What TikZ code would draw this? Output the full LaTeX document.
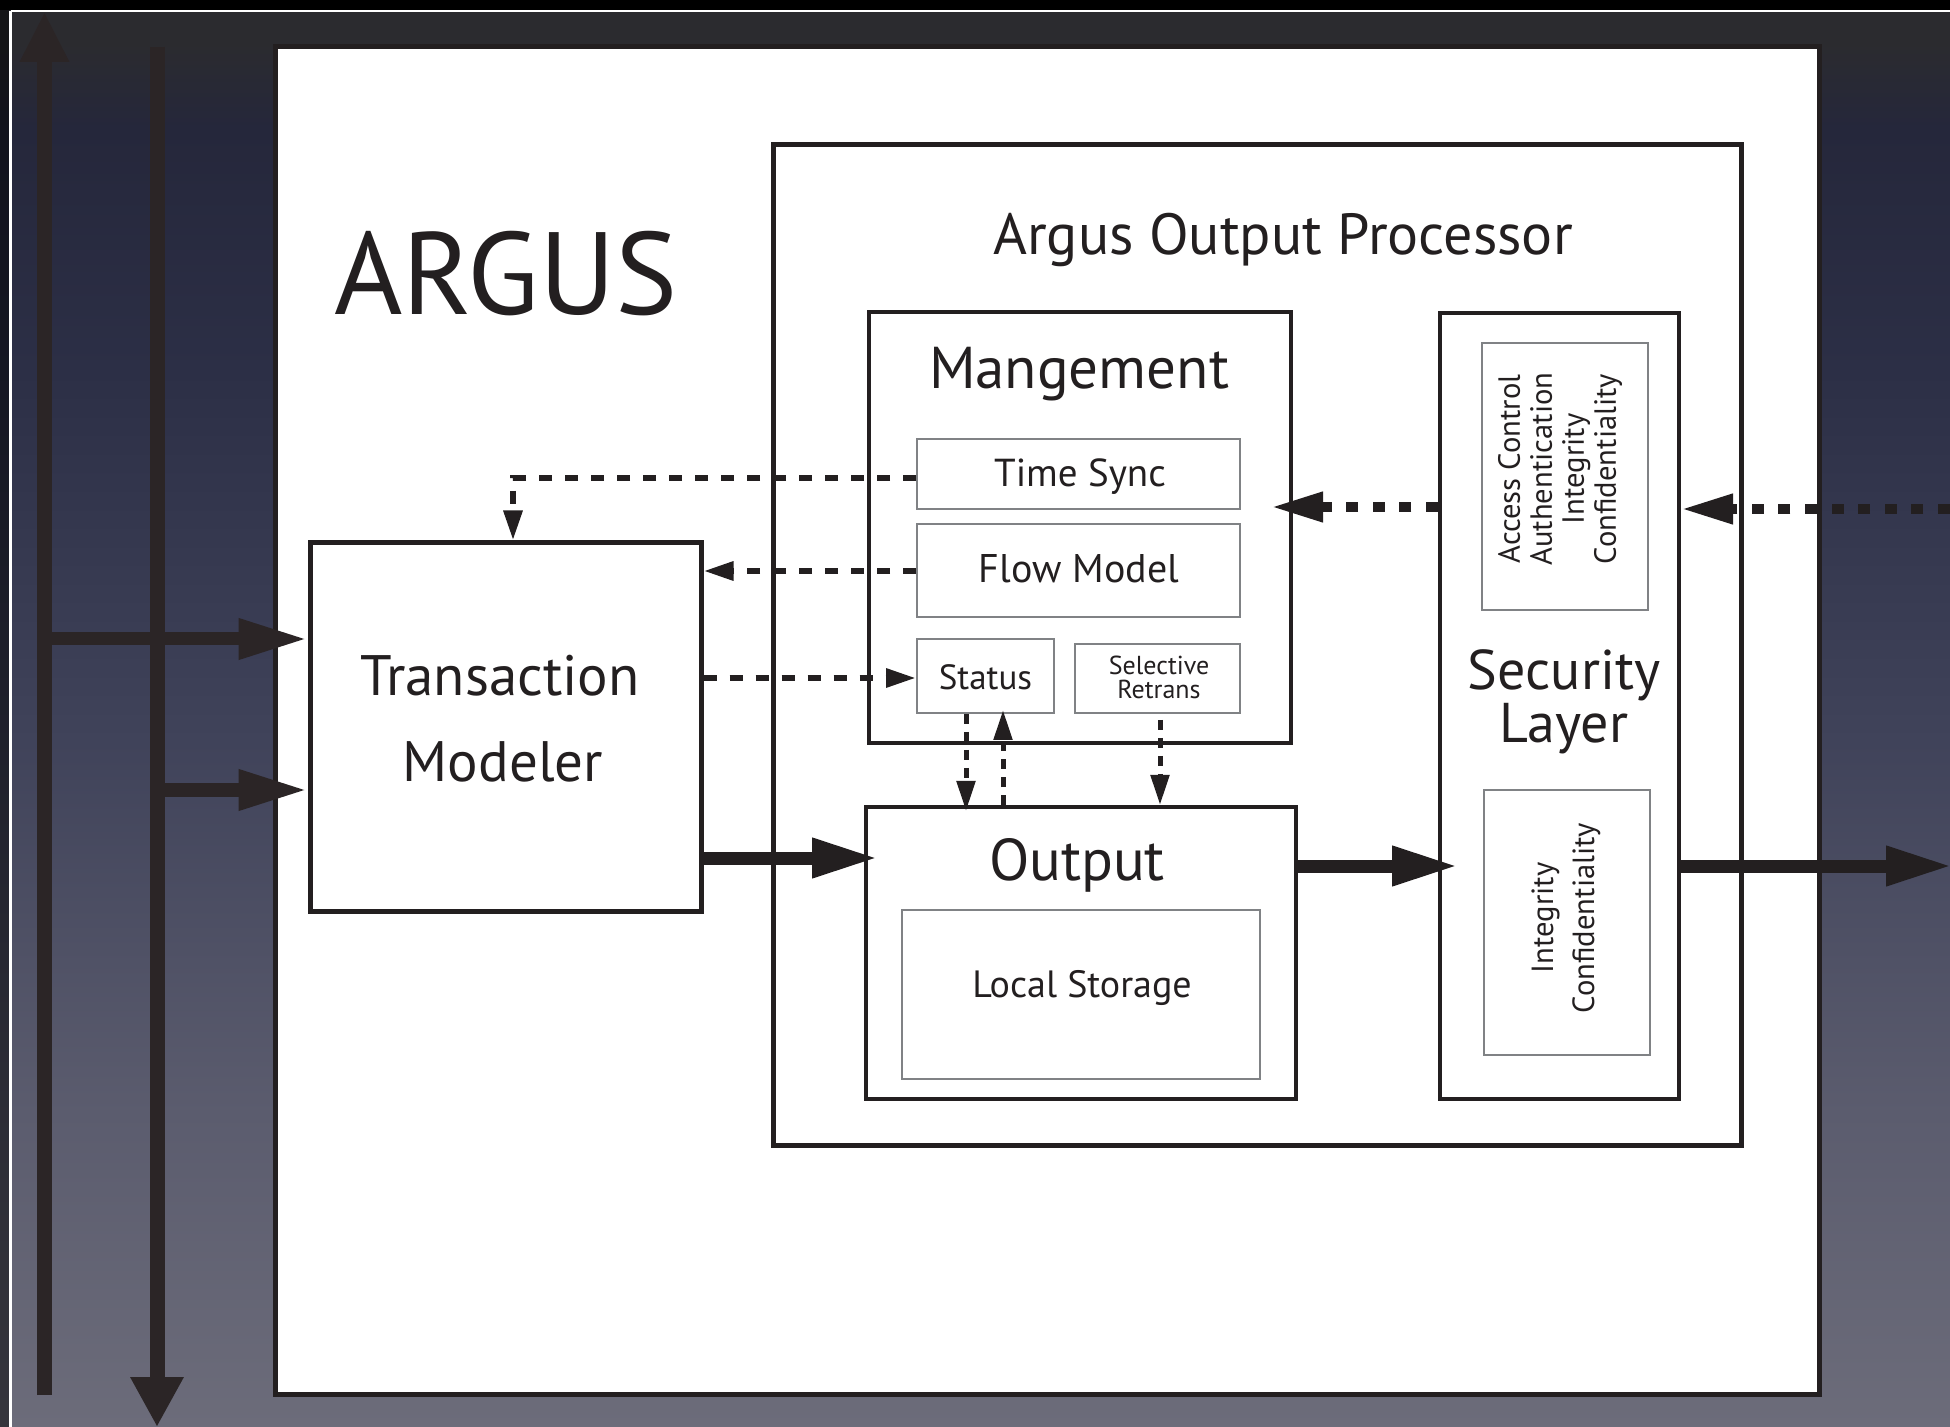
\documentclass[tikz,border=0pt]{standalone}
\usepackage{fontspec}
\setmainfont{PT Sans}
\usetikzlibrary{arrows.meta,fit,calc}
\definecolor{ink}{HTML}{231F20}
\definecolor{bus}{HTML}{2B2526}
\definecolor{thin}{HTML}{808285}
\definecolor{bgA}{HTML}{6C6C7A}
\definecolor{bgB}{HTML}{5B5C6E}
\definecolor{bgC}{HTML}{40435A}
\definecolor{bgD}{HTML}{2C2F46}
\definecolor{bgE}{HTML}{25273B}
\definecolor{bgF}{HTML}{2B2B2F}
\pgfdeclareverticalshading{bgshade}{100bp}{color(0bp)=(bgA); color(25bp)=(bgA); color(36bp)=(bgB); color(49bp)=(bgC); color(62bp)=(bgD); color(70.5bp)=(bgE); color(73.5bp)=(bgF); color(100bp)=(bgF)}
\newcommand{\fs}[1]{\fontsize{#1}{#1}\selectfont}
\begin{document}
\begin{tikzpicture}[x=0.5pt,y=-0.5pt,
  box/.style={draw=ink,fill=white,line width=2pt,inner sep=0pt},
  heavybox/.style={box,line width=2.5pt},
  subbox/.style={draw=thin,fill=white,line width=1pt,inner sep=0pt},
  lbl/.style={text=ink,inner sep=0pt,anchor=base},
  dashln/.style={draw=ink,line width=3pt,dash pattern=on 6.5pt off 6.5pt},
  vdash/.style={draw=ink,line width=2.5pt,dash pattern=on 5pt off 4pt},
  sqdash/.style={draw=ink,line width=5pt,dash pattern=on 6pt off 7.3pt},
  thickarr/.style={draw=ink,line width=6.5pt,-{Triangle[length=33pt,width=18.5pt]}},
  smalltip/.style={-{Triangle[length=15pt,width=9pt]}},
  bigdashtip/.style={-{Triangle[length=26pt,width=14pt]}},
  busln/.style={draw=bus,line width=7.5pt}
]
\useasboundingbox (0,0) rectangle (1950,1427);
% background
\shade[shading=bgshade] (0,0) rectangle (1950,1427);
\fill[black] (0,0) rectangle (1950,10);
\fill[black,opacity=0.5] (0,10) rectangle (9,1427);
\draw[white,line width=1.2pt] (10.5,11) -- (1950,11);
\draw[white,line width=1.2pt] (10.5,11) -- (10.5,1427);

% bus lines
\coordinate (busAbot) at (44.5,1395);
\coordinate (busAtop) at (44.5,12);
\coordinate (busBtop) at (157,47);
\coordinate (busBbot) at (157,1427);
\draw[busln,-{Triangle[length=25pt,width=23pt]}] (busAbot) -- (busAtop);
\draw[busln,-{Triangle[length=25pt,width=25pt]}] (busBtop) -- (busBbot);

% boxes
\node[heavybox, fit={(275,47)(1819,1394)}] (argus) {};
\node[heavybox, fit={(773,145)(1741,1145)}] (aop) {};
\node[heavybox, fit={(310,543)(701,911)}] (tm) {};
\node[box, fit={(869,312)(1291,743)}] (mg) {};
\node[subbox, fit={(917,439)(1240,509)}] (ts) {};
\node[subbox, fit={(917,524)(1240,617)}] (fm) {};
\node[subbox, fit={(917,639)(1054,713)}] (st) {};
\node[subbox, fit={(1075,644)(1240,713)}] (sr) {};
\node[box, fit={(866,807)(1296,1099)}] (out) {};
\node[subbox, fit={(902,910)(1260,1079)}] (ls) {};
\node[box, fit={(1440,313)(1679,1099)}] (sec) {};
\node[subbox, fit={(1482,343)(1648,610)}] (secA) {};
\node[subbox, fit={(1484,790)(1650,1055)}] (secB) {};

% texts
\node[lbl,font=\fs{58.5}] (targus) at (506,315) {ARGUS};
\node[lbl,font=\fs{29}] (taop) at (1283,255) {Argus Output Processor};
\node[lbl,font=\fs{29.5}] (tmg) at (1079,389) {Mangement};
\node[lbl,font=\fs{19.5}] (tts) at (1080,487) {Time Sync};
\node[lbl,font=\fs{20}] (tfm) at (1079,583) {Flow Model};
\node[lbl,font=\fs{17.5}] (tst) at (985.5,690) {Status};
\node[lbl,font=\fs{13}] (tsr1) at (1159,675) {Selective};
\node[lbl,font=\fs{13}] (tsr2) at (1159,699) {Retrans};
\node[lbl,font=\fs{28.5}] (ttm1) at (500,696) {Transaction};
\node[lbl,font=\fs{28.5}] (ttm2) at (503,782) {Modeler};
\node[lbl,font=\fs{29.5}] (tout) at (1077,880) {Output};
\node[lbl,font=\fs{19}] (tls) at (1082,997) {Local Storage};
\node[align=center,text=ink,inner sep=0pt,font=\fontsize{28}{22.5}\selectfont] (tsec) at (1564,702) {Security\\Layer};
\node[rotate=90,align=center,text=ink,inner sep=0pt,font=\fontsize{15.3}{16}\selectfont] (tsecA) at (1560,469) {Access Control\\Authentication\\Integrity\\Confidentiality};
\node[rotate=90,align=center,text=ink,inner sep=0pt,font=\fontsize{15.3}{20.5}\selectfont] (tsecB) at (1566,918) {Integrity\\Confidentiality};

% bus to transaction modeler
\coordinate (b1) at (44.5,639);
\coordinate (b2) at (157,790);
\draw[busln,line width=6.5pt,-{Triangle[length=34.5pt,width=19pt]}] (b1) -- (b1 -| tm.west);
\draw[busln,line width=6.5pt,-{Triangle[length=34.5pt,width=19pt]}] (b2) -- (b2 -| tm.west);

% dashed connectors
\coordinate (k1) at (513,478);
\draw[dashln,smalltip] (ts.west |- k1) -- (k1) -- (k1 |- tm.north);
\coordinate (k2) at (0,571);
\draw[dashln,smalltip] (fm.west |- k2) -- (tm.east |- k2);
\coordinate (k3) at (0,678);
\draw[dashln,smalltip] (tm.east |- k3) -- (st.west |- k3);
\coordinate (k4) at (966,0);
\draw[vdash,smalltip,shorten >=-3pt] (k4 |- st.south) -- (k4 |- out.north);
\coordinate (k5) at (1003,0);
\draw[vdash,smalltip,shorten >=-2pt] (k5 |- out.north) -- (k5 |- st.south);
\coordinate (k6) at (1160,0);
\draw[vdash,smalltip] ($(k6 |- sr.south)+(0,6)$) -- (k6 |- out.north);

% thick connectors
\coordinate (k7) at (0,858);
\draw[thickarr,shorten >=-7pt] (tm.east |- k7) -- (out.west |- k7);
\coordinate (k8) at (0,866);
\draw[thickarr,shorten >=-10pt] (out.east |- k8) -- (sec.west |- k8);
\coordinate (k9) at (1952,866);
\draw[thickarr] (sec.east |- k8) -- (k9);

% square dashed connectors
\coordinate (k10) at (0,507);
\draw[sqdash,bigdashtip,shorten >=-11pt] (sec.west |- k10) -- (mg.east |- k10);
\coordinate (k11) at (1950,509);
\draw[sqdash,bigdashtip] (k11) -- (sec.east |- k11);
\end{tikzpicture}
\end{document}
